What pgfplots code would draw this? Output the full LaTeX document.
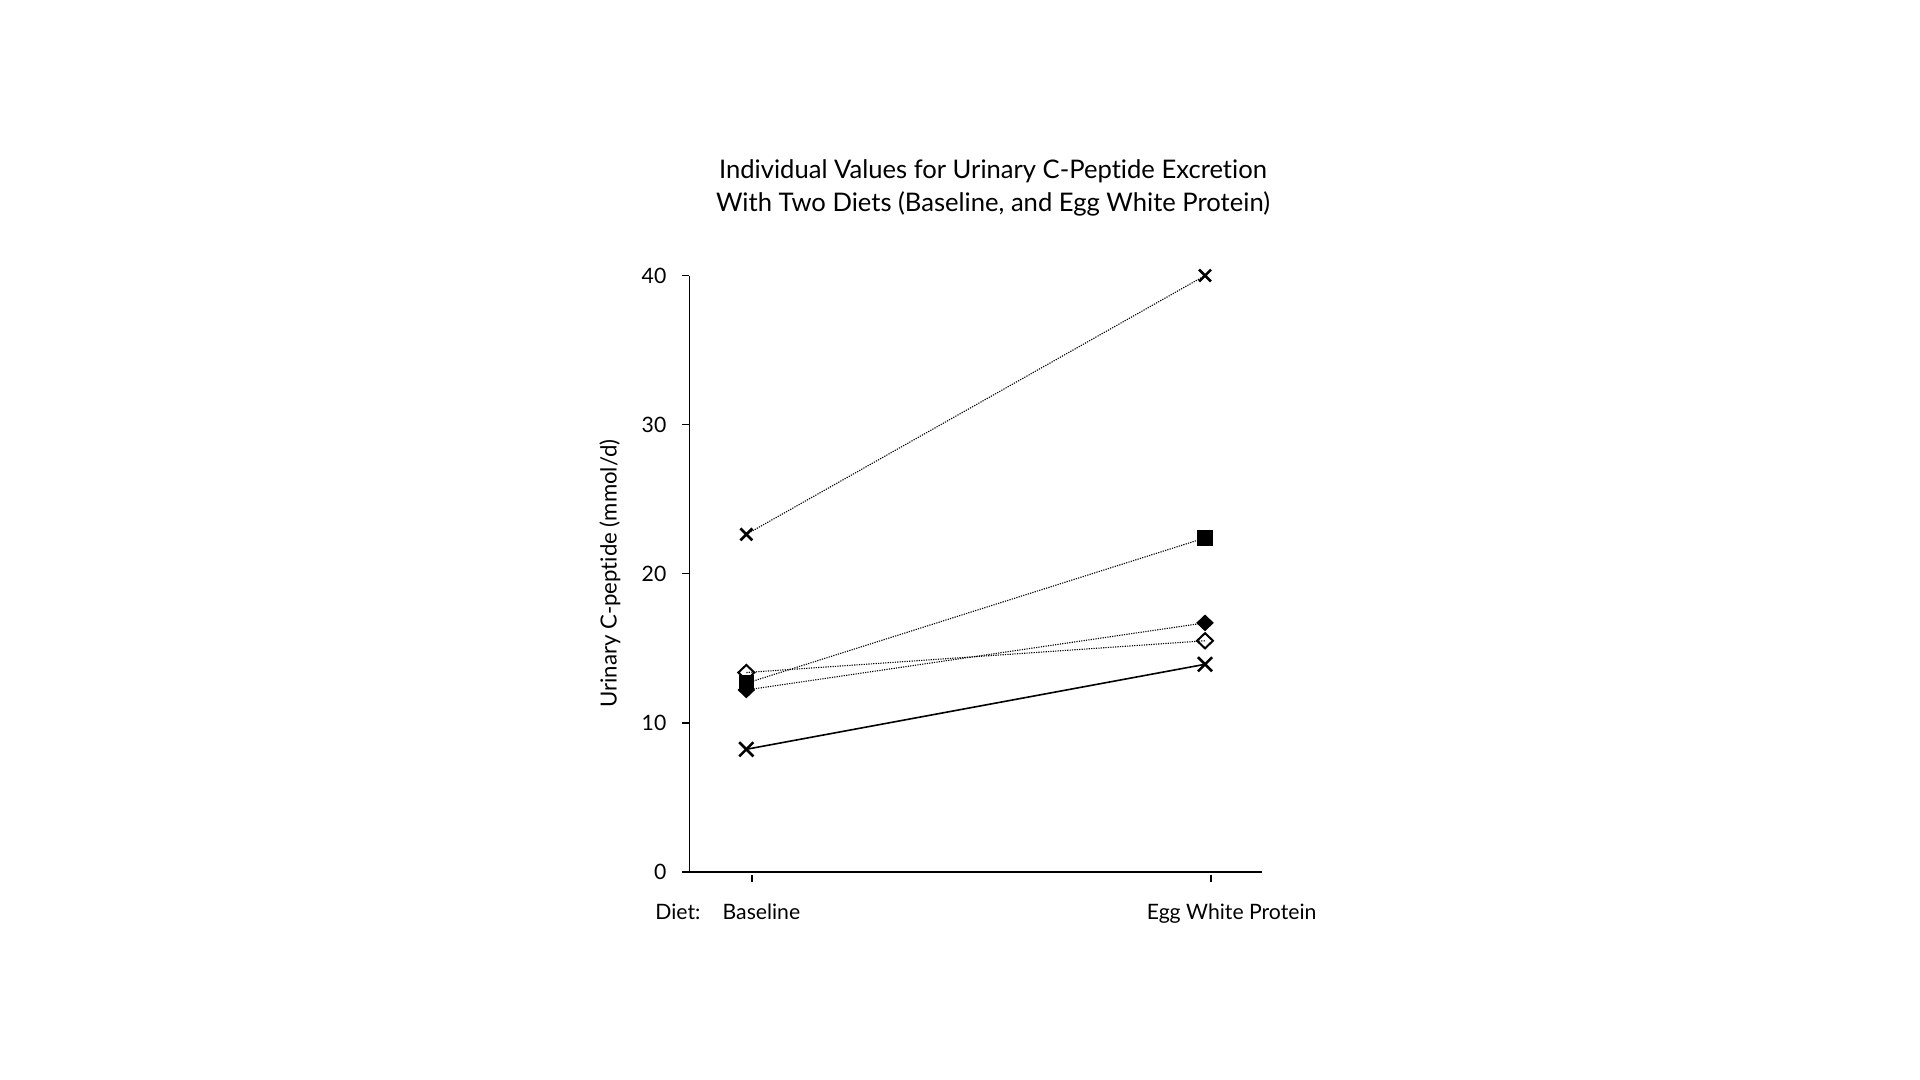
\documentclass[border=0pt]{standalone}
\usepackage{pgfplots}
\pgfplotsset{compat=1.18}
\usepackage{fontspec}
\setmainfont{Lato}[Ligatures=NoCommon]

\begin{document}
\begin{tikzpicture}[x=1pt,y=1pt]
  % canvas of the whole slide, 2 px per pt
  \path[use as bounding box] (0,0) rectangle (960,540);
  \node[anchor=base, font=\fontsize{12.8}{15}\selectfont] at (496.5,450.6) {Individual Values for Urinary C-Peptide Excretion};
  \node[anchor=base, font=\fontsize{12.8}{15}\selectfont] at (496.5,434.1) {With Two Diets (Baseline, and Egg White Protein)};
  \begin{axis}[
    at={(344.7pt,104.1pt)},
    anchor=south west,
    scale only axis,
    width=286.5pt,
    height=298.1pt,
    xmin=-0.136, xmax=1.112,
    ymin=0, ymax=40,
    axis x line*=bottom,
    axis y line*=left,
    axis line style={-, line width=0.9pt},
    tick align=outside,
    major tick length=3.5pt,
    tick style={black, line width=0.8pt},
    xtick style={yshift=-1.5pt},
    xtick={0,1},
    xticklabels={Baseline, \hspace*{11pt}Egg White Protein},
    ytick={0,10,20,30,40},
    font=\fontsize{10.6}{12}\selectfont,
    /pgf/number format/assume math mode=true,
    xticklabel style={anchor=base, yshift=-20.2pt, xshift=4.8pt},
    yticklabel style={xshift=-4.5pt},
    ylabel={Urinary C-peptide (mmol/d)},
    y label style={at={(axis description cs:-0.1386,0.5)}, anchor=center, font=\fontsize{11.1}{13}\selectfont},
    clip=false,
  ]
    \addplot[black, line width=0.55pt, dash pattern=on 0.6pt off 0.6pt,
      mark=x, mark size=4.2pt, mark options={solid, line width=1.3pt}]
      coordinates {(-0.012,22.64) (0.987,40)};
    \addplot[black, line width=0.55pt, dash pattern=on 0.6pt off 0.6pt,
      mark=square*, mark size=3.6pt, mark options={solid}]
      coordinates {(-0.012,12.65) (0.987,22.4)};
    \addplot[black, line width=0.55pt, dash pattern=on 0.6pt off 0.6pt,
      mark=diamond*, mark size=3.8pt, mark options={solid, xscale=1.4}]
      coordinates {(-0.012,12.2) (0.987,16.7)};
    \addplot[black, line width=0.55pt, dash pattern=on 0.6pt off 0.6pt,
      mark=diamond, mark size=3.8pt, mark options={solid, xscale=1.4, fill=white, line width=1pt}]
      coordinates {(-0.012,13.37) (0.987,15.5)};
    \addplot[black, line width=0.8pt,
      mark=x, mark size=5pt, mark options={solid, line width=1.3pt}]
      coordinates {(-0.012,8.22) (0.987,13.92)};
    \node[anchor=base] at (axis cs:-0.161,0) [yshift=-23.7pt] {Diet:};
  \end{axis}
\end{tikzpicture}
\end{document}
